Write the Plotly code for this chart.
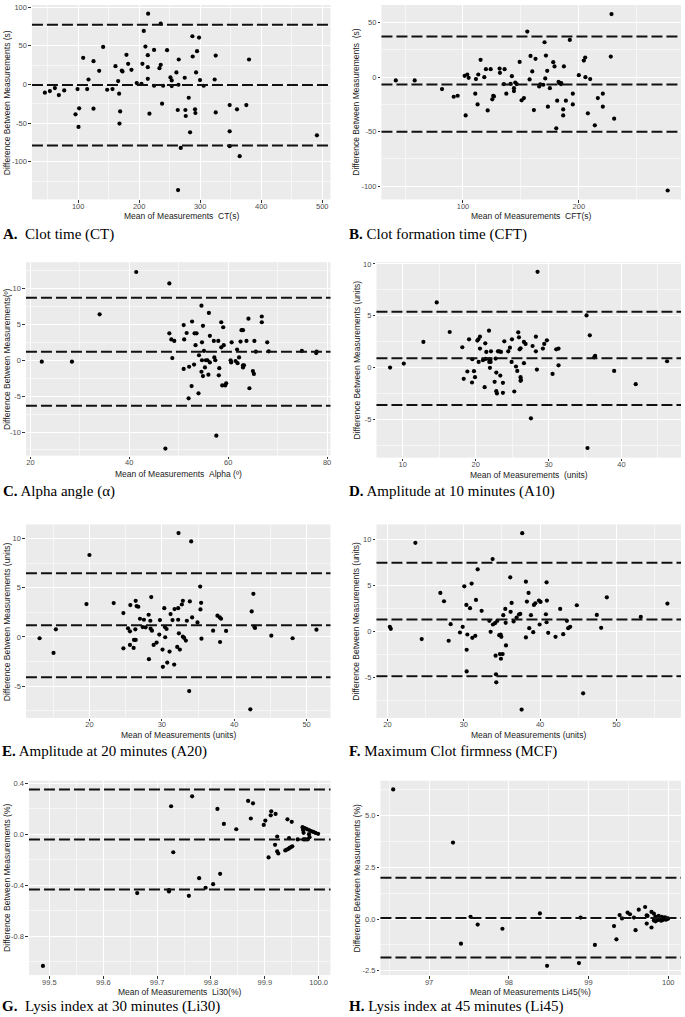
import plotly.graph_objects as go

# ---------------- DATA ----------------
# A. Clot time (CT)
A_mean = [45.4, 53.6, 61.8, 68.3, 77.1, 95.6, 98.9, 100.5, 101.6, 108.2, 114.7, 116.9, 125.1, 125.1,
          140.9, 134.4, 147.5, 156.2, 161.1, 165.5, 167.1, 167.7, 168.8, 171.5, 172.6, 179.1, 181.9,
          187.3, 196.0, 203.7, 205.3, 207.5, 210.2, 214.1, 214.1, 214.6, 214.1, 216.8, 224.4, 224.4,
          233.2, 235.3, 235.3, 237.5, 239.2, 245.7, 251.2, 253.3, 253.3, 261.0, 263.2, 264.3, 264.8,
          263.7, 268.1, 274.6, 275.7, 276.3, 281.2, 283.4, 287.2, 287.7, 291.5, 292.1, 293.2, 294.8,
          298.1, 299.7, 305.7, 323.7, 325.4, 325.4, 348.3, 348.3, 348.3, 360.3, 364.7, 375.6, 380.0, 491.3]
A_diff = [-10.7, -8.6, -4.7, -13.7, -7.7, -38.6, -6.0, -54.9, -30.9, 34.3, -6.0, 6.4, -31.3, 30.0,
          48.5, 17.6, -6.9, -6.0, 23.6, 4.3, -12.0, -50.6, -34.8, 18.0, 16.7, 38.2, 26.6,
          18.9, 1.7, 0.9, 26.6, 69.1, 48.9, 37.8, 22.3, 91.4, 7.3, -37.8, 44.6, -1.7,
          21.0, 25.3, 78.5, -24.9, -1.7, 44.2, 9.0, 5.2, -2.1, 15.5, -33.0, -0.4, 32.2,
          -136.5, -82.0, 8.6, -33.0, -40.8, -17.2, -61.8, 62.2, 36.1, -32.2, -36.9, 15.5, 42.9,
          60.5, 5.6, -1.7, 6.4, 37.3, -36.1, -26.6, -60.5, -79.8, -32.2, -92.7, -26.6, 32.2, -65.7]
A_limits = [77.2, -0.8, -79.0]

# B. Clot formation time (CFT)
B_mean = [42.0, 58.3, 81.9, 92.0, 95.4, 101.4, 103.7, 104.9, 102.3, 111.2, 110.6, 113.2, 112.6, 115.2,
          118.4, 119.8, 121.3, 123.9, 125.3, 126.1, 126.7, 131.6, 131.9, 135.9, 135.3, 137.4, 141.1,
          142.2, 144.0, 144.0, 145.1, 146.3, 148.9, 150.6, 152.6, 155.5, 157.5, 158.3, 159.8, 161.2,
          162.6, 165.8, 166.7, 169.3, 170.4, 171.0, 171.6, 172.7, 173.3, 175.0, 177.9, 179.0, 181.3,
          180.5, 182.5, 183.3, 184.6, 184.8, 186.5, 187.1, 186.5, 188.8, 192.2, 194.8, 194.8, 200.0,
          204.3, 205.5, 205.7, 207.8, 209.8, 213.8, 216.4, 220.7, 220.7, 227.6, 228.2, 230.5, 276.7]
B_diff = [-3.0, -3.0, -11.0, -18.0, -17.1, 1.2, 2.4, -0.6, -35.1, -1.8, -15.2, 2.4, -25.0, 15.9,
          0.0, 7.3, -30.5, 7.3, -20.4, -17.1, -17.7, 7.9, 4.0, 7.3, -6.4, -15.2, -6.1,
          0.9, -10.1, -12.8, -4.9, -6.4, 14.0, -21.3, -19.2, 41.8, -2.1, 19.5, 5.2, -30.2,
          16.8, -8.5, -6.7, -7.0, 32.0, -1.2, 19.8, 5.8, -27.1, -10.1, 13.7, 9.8, -21.6,
          -47.0, -4.3, -5.5, -6.4, -5.5, -29.6, 9.8, -35.1, -21.6, 34.1, -15.2, -25.0, 1.8,
          15.2, 18.0, 0.0, -33.2, -1.8, -44.2, -19.2, -15.2, -27.1, 18.9, 57.9, -38.1, -104.0]
B_limits = [37.2, -6.7, -50.0]

# C. Alpha angle
C_mean = [22.3, 28.4, 34.0, 41.4, 48.1, 48.1, 48.5, 49.1, 48.7, 47.3, 51.0, 51.1, 51.0, 51.6, 52.1,
          52.7, 52.6, 52.0, 53.1, 53.2, 53.4, 53.6, 54.0, 54.1, 54.6, 54.6, 54.7, 54.7, 54.9, 54.9,
          55.1, 55.3, 55.5, 55.8, 56.0, 56.1, 56.3, 56.3, 57.1, 57.2, 57.4, 57.6, 58.0, 58.1, 58.2,
          58.6, 58.6, 58.8, 59.0, 59.1, 59.4, 59.6, 60.5, 60.6, 60.7, 61.5, 61.8, 61.9, 62.2, 62.5,
          62.7, 63.0, 63.0, 63.0, 63.2, 63.7, 64.1, 64.3, 65.0, 65.2, 65.3, 65.6, 66.8, 66.8, 67.9,
          68.2, 74.9, 77.8, 77.9]
C_diff = [-0.2, -0.2, 6.4, 12.3, 10.7, 3.75, 2.9, 2.7, 0.3, -12.3, 4.9, 2.9, -1.2, 3.8, -0.9,
          5.4, -3.6, -5.3, -0.6, 3.75, 2.1, 3.75, -4.6, 0.7, 7.6, -1.6, 2.5, 0.0, 4.8, -2.2,
          1.3, -1.0, 0.0, 0.0, -2.0, 6.6, -0.3, 3.4, 2.7, 0.4, 0.0, -10.5, 2.7, -2.1, -1.1,
          5.3, 1.8, -3.5, 4.6, 2.1, -3.5, -3.2, 0.0, -0.3, 2.5, -0.1, 1.5, -0.4, 0.4, 2.6,
          4.2, 4.2, -0.7, -1.0, -0.7, 2.7, 5.8, -3.9, -1.5, -1.9, 2.7, 1.2, 6.1, 5.3, 2.5,
          1.25, 1.3, 1.0, 1.2]
C_limits = [8.70, 1.20, -6.34]

# D. Amplitude at 10 minutes (A10)
D_mean = [8.26, 10.14, 12.83, 14.66, 16.44, 18.17, 18.36, 18.86, 19.09, 19.50, 19.54, 19.77, 19.91,
          20.23, 20.37, 20.41, 20.59, 20.59, 21.00, 21.23, 21.32, 21.37, 21.46, 21.83, 21.87, 21.87,
          21.96, 22.10, 22.01, 22.05, 22.60, 22.74, 22.83, 22.83, 22.92, 23.06, 23.24, 23.38, 23.47,
          23.74, 23.74, 23.93, 24.47, 24.70, 24.93, 24.98, 25.30, 25.53, 25.71, 25.84, 25.94, 26.03,
          26.16, 26.16, 26.16, 26.21, 26.62, 26.62, 26.85, 27.58, 27.81, 28.26, 28.26, 28.40, 28.49,
          29.22, 29.41, 29.77, 30.55, 31.05, 31.37, 31.37, 35.21, 35.34, 35.66, 36.26, 36.39, 39.0,
          41.96, 46.26]
D_diff = [0.0, 0.38, 2.47, 6.28, 3.43, 1.96, -1.09, -0.38, 2.72, -1.44, 0.80, -0.35, -0.93,
          2.60, 2.72, 0.54, 2.98, 1.83, 0.71, -1.89, 2.34, 0.83, 1.51, 3.56, 0.80, 0.54,
          -0.03, 1.57, 0.77, 0.54, -1.38, 0.87, -0.48, -2.28, -2.50, 1.57, 1.57, -0.77, 1.51,
          -1.47, -2.44, 2.53, 1.57, 1.92, 0.54, 2.72, -2.31, 0.10, -0.32, 3.40, 2.92, 1.76,
          1.86, -0.93, -1.28, -1.19, 2.47, 0.42, 2.28, -4.90, 2.08, 2.98, 1.57, -0.19, 9.23,
          1.83, 2.28, 2.63, -0.61, 1.76, 1.83, 0.22, 5.03, -7.76, 3.11, 0.99, 1.12, -0.32,
          -1.60, 0.61]
D_limits = [5.38, 0.90, -3.62]

# E. Amplitude at 20 minutes (A20)
E_mean = [13.11, 15.04, 15.36, 19.59, 20.0, 23.35, 24.69, 24.69, 25.33, 25.60, 25.60, 25.65, 26.11,
          26.16, 26.34, 26.39, 26.39, 26.52, 26.75, 26.98, 27.35, 27.53, 27.76, 28.18, 28.22, 28.41,
          28.45, 28.54, 28.64, 28.87, 29.28, 29.65, 29.74, 30.10, 30.15, 30.34, 30.43, 30.47, 30.66,
          30.75, 31.07, 31.21, 31.48, 31.71, 31.76, 32.13, 32.26, 32.36, 32.26, 32.31, 32.49, 32.77,
          32.91, 32.91, 33.09, 33.32, 33.46, 33.78, 33.87, 34.06, 34.19, 34.93, 35.30, 35.34, 35.43,
          35.48, 37.09, 37.69, 38.01, 38.05, 38.19, 38.88, 42.23, 42.42, 42.65, 42.78, 42.88, 45.13,
          48.07, 51.37]
E_diff = [-0.13, -1.62, 0.78, 3.34, 8.33, 3.44, 2.43, -1.15, 0.88, 0.57, -0.81, 3.24, -1.11,
          -0.30, 0.78, -0.30, 3.67, 3.14, 3.07, 1.85, 1.01, 1.75, 0.98, 2.26, -2.26, 1.65,
          0.84, 4.05, 0.64, -0.81, -0.57, 0.24, 1.72, -1.28, -3.03, 2.93, 1.01, -0.03, 0.81,
          -2.60, -1.48, 2.33, 1.72, -2.80, 2.83, -1.01, 2.93, 0.37, 1.75, 10.55, -1.28, 3.30,
          3.67, 0.03, -0.10, -0.37, 1.65, -5.50, 3.61, 9.71, 1.99, 1.48, 5.12, 2.80, 3.47,
          -0.17, 0.64, 2.16, 1.99, -0.51, 1.85, 0.61, -7.35, 2.60, 4.38, 1.05, 0.91, 0.13,
          -0.13, 0.74]
E_limits = [6.47, 1.18, -4.08]

# F. Maximum clot firmness (MCF)
F_mean = [20.31, 20.44, 23.66, 24.49, 26.93, 27.41, 28.02, 28.28, 29.50, 29.86, 30.07, 30.34, 30.38,
          30.38, 30.47, 30.82, 31.03, 31.12, 31.51, 31.60, 31.82, 32.34, 33.35, 33.52, 33.78, 33.82,
          34.09, 34.17, 34.22, 34.26, 34.39, 34.65, 34.74, 34.83, 34.87, 34.92, 35.09, 35.18, 35.44,
          35.49, 35.53, 36.09, 36.14, 36.27, 36.53, 36.92, 37.23, 37.40, 37.58, 37.66, 38.14, 38.14,
          38.27, 38.49, 38.58, 38.80, 39.10, 39.19, 39.37, 39.85, 39.94, 40.06, 40.76, 40.85, 40.89,
          40.85, 41.06, 42.02, 42.63, 43.03, 43.51, 43.68, 43.94, 44.81, 45.64, 47.43, 48.00, 48.74,
          53.19, 56.68]
F_diff = [0.51, 0.29, 9.67, -0.83, 4.20, 3.30, -1.01, 0.80, -0.11, 0.51, 4.93, 2.90, -1.99,
          -4.35, -0.33, 2.54, 5.22, -0.69, -0.47, 3.44, 6.78, 2.25, 1.16, -0.04, 7.90, 0.76,
          0.91, -2.64, -4.67, -5.54, 1.16, -0.40, -2.46, -0.33, -2.97, -0.58, -2.46, 1.78, 2.46,
          0.94, -1.52, 5.91, 2.14, 3.12, 1.09, 1.52, 1.85, 1.92, -8.51, 10.72, 5.43, -0.65,
          3.26, 4.20, 0.36, 1.78, -0.07, 2.90, 3.08, 3.37, 0.76, 3.22, 1.88, 5.36, 3.37,
          1.01, -0.14, -0.58, 2.46, -0.29, 1.16, 0.36, 0.51, 2.86, -6.74, 1.81, 0.40, 3.73,
          1.59, 3.04]
F_limits = [7.50, 1.30, -4.89]

# G. Lysis index at 30 minutes (Li30)
G_mean = [99.488, 99.663, 99.722, 99.722, 99.726, 99.730, 99.759, 99.765, 99.778, 99.790, 99.804,
          99.812, 99.817, 99.824, 99.847, 99.869, 99.878, 99.874, 99.912, 99.911, 99.920, 99.901,
          99.898, 99.942, 99.950, 99.923, 99.945, 99.919, 99.923, 99.925, 99.907,
          99.938, 99.941, 99.944, 99.946, 99.949, 99.951, 99.961,
          99.970, 99.974, 99.978, 99.982, 99.986, 99.990, 99.994, 99.999,
          99.972, 99.971, 99.982, 99.983, 99.979, 99.975, 99.972]
G_diff = [-1.031, -0.461, -0.448, -0.438, 0.219, -0.141, -0.482, 0.297, -0.344, -0.419, -0.391,
          0.198, -0.310, 0.081, 0.039, 0.261, 0.242, 0.123, 0.180, 0.148, 0.159, 0.107,
          0.073, 0.117, 0.097, -0.018, -0.031, -0.083, -0.135, -0.151, -0.182,
          -0.127, -0.120, -0.114, -0.107, -0.100, -0.094, -0.041,
          0.055, 0.048, 0.040, 0.033, 0.025, 0.018, 0.010, 0.003,
          0.011, 0.034, 0.000, -0.023, -0.041, -0.041, -0.041]
G_limits = [0.351, -0.041, -0.433]

# H. Lysis index at 45 minutes (Li45)
H_mean = [96.55, 97.30, 97.40, 97.52, 97.61, 97.92, 98.39, 98.48, 98.88, 98.90, 99.08, 99.32, 99.35,
          99.39, 99.42, 99.49, 99.52, 99.57, 99.59, 99.63, 99.71, 99.73, 99.74, 99.73, 99.79, 99.79,
          99.82, 99.82, 99.84, 99.84, 99.86, 99.87, 99.88, 99.90, 99.91, 99.92, 99.94, 99.95, 99.97,
          99.99, 99.96, 99.93, 99.98, 100.0]
H_diff = [6.26, 3.69, -1.19, 0.11, -0.27, -0.47, 0.27, -2.26, -2.13, 0.07, -1.25, -0.34, -0.98,
          0.19, 0.03, 0.31, 0.23, 0.07, -0.54, 0.45, 0.58, 0.18, 0.15, -0.22, -0.41, 0.34,
          0.26, -0.07, 0.12, -0.11, 0.06, -0.05, 0.15, 0.02, -0.08, 0.11, 0.01, 0.06, -0.03,
          0.03, 0.08, -0.05, -0.01, 0.02]
H_limits = [1.99, 0.05, -1.86]

# tick values
A_xticks, A_xminor = [100, 200, 300, 400, 500], [50, 150, 250, 350, 450]
A_yticks, A_yminor = [-100, -50, 0, 50, 100], [-125, -75, -25, 25, 75]
B_xticks, B_xminor = [100, 200], [50, 150, 250]
B_yticks, B_yminor = [-100, -50, 0, 50], [-75, -25, 25]
C_xticks, C_xminor = [20, 40, 60, 80], [30, 50, 70]
C_yticks, C_yminor = [-10, -5, 0, 5, 10], [-12.5, -7.5, -2.5, 2.5, 7.5, 12.5]
D_xticks, D_xminor = [10, 20, 30, 40], [15, 25, 35, 45]
D_yticks, D_yminor = [-5, 0, 5, 10], [-7.5, -2.5, 2.5, 7.5]
E_xticks, E_xminor = [20, 30, 40, 50], [15, 25, 35, 45]
E_yticks, E_yminor = [-5, 0, 5, 10], [-7.5, -2.5, 2.5, 7.5]
F_xticks, F_xminor = [20, 30, 40, 50], [25, 35, 45, 55]
F_yticks, F_yminor = [-5, 0, 5, 10], [-7.5, -2.5, 2.5, 7.5]
G_xticks, G_xminor = [99.5, 99.6, 99.7, 99.8, 99.9, 100.0], [99.55, 99.65, 99.75, 99.85, 99.95]
G_yticks, G_yminor = [-0.8, -0.4, 0.0, 0.4], [-1.0, -0.6, -0.2, 0.2]
H_xticks, H_xminor = [97, 98, 99, 100], [96.5, 97.5, 98.5, 99.5]
H_yticks, H_yminor = [-2.5, 0.0, 2.5, 5.0], [-1.25, 1.25, 3.75, 6.25]

# ---------------- LAYOUT / STYLE ----------------
W, H = 685, 1017
SANS = "Liberation Sans, Arial, sans-serif"
SERIF = "Liberation Serif, Times New Roman, serif"

def fmt(v, dec):
    return f"{v:.{dec}f}"

panels = [
    dict(mean=A_mean, diff=A_diff, lim=A_limits, xt=A_xticks, xm=A_xminor, yt=A_yticks, ym=A_yminor,
         xd=0, yd=0, xr=[24.2, 513.6], yr=[-148.5, 102.6], box=(32, 331, 2, 197),
         xtitle="Mean of Measurements\u00a0\u00a0CT(s)", ytitle="Difference Between Measurements\u00a0(s)",
         letter="A.", cap="\u00a0\u00a0Clot time (CT)", xty=214, capy=232, capx=1),
    dict(mean=B_mean, diff=B_diff, lim=B_limits, xt=B_xticks, xm=B_xminor, yt=B_yticks, ym=B_yminor,
         xd=0, yd=0, xr=[29.6, 288.2], yr=[-112.2, 66.2], box=(382, 682, 2, 197),
         xtitle="Mean of Measurements\u00a0\u00a0CFT(s)", ytitle="Difference Between Measurements\u00a0\u00a0(s)",
         letter="B.", cap=" Clot formation time (CFT)", xty=214, capy=232, capx=348),
    dict(mean=C_mean, diff=C_diff, lim=C_limits, xt=C_xticks, xm=C_xminor, yt=C_yticks, ym=C_yminor,
         xd=0, yd=0, xr=[19.1, 80.7], yr=[-13.29, 13.66], box=(26, 331, 260, 454),
         xtitle="Mean of Measurements\u00a0\u00a0Alpha (º)", ytitle="Difference Between Measurements(º)",
         letter="C.", cap=" Alpha angle (α)", xty=472, capy=490, capx=1),
    dict(mean=D_mean, diff=D_diff, lim=D_limits, xt=D_xticks, xm=D_xminor, yt=D_yticks, ym=D_yminor,
         xd=0, yd=0, xr=[6.39, 48.17], yr=[-8.69, 10.16], box=(377, 682, 260, 456),
         xtitle="Mean of Measurements\u00a0\u00a0(units)", ytitle="Difference Between Measurements\u00a0(units)",
         letter="D.", cap=" Amplitude at 10 minutes (A10)", xty=473, capy=490, capx=348),
    dict(mean=E_mean, diff=E_diff, lim=E_limits, xt=E_xticks, xm=E_xminor, yt=E_yticks, ym=E_yminor,
         xd=0, yd=0, xr=[11.23, 53.31], yr=[-8.22, 11.43], box=(26, 331, 523, 717),
         xtitle="Mean of Measurements (units)", ytitle="Difference Between Measurements (units)",
         letter="E.", cap=" Amplitude at 20 minutes (A20)", xty=734, capy=751, capx=0),
    dict(mean=F_mean, diff=F_diff, lim=F_limits, xt=F_xticks, xm=F_xminor, yt=F_yticks, ym=F_yminor,
         xd=0, yd=0, xr=[18.56, 58.46], yr=[-9.42, 11.67], box=(377, 682, 523, 717),
         xtitle="Mean of Measurements (units)", ytitle="Difference Between Measurements (units)",
         letter="F.", cap=" Maximum Clot firmness (MCF)", xty=734, capy=751, capx=348),
    dict(mean=G_mean, diff=G_diff, lim=G_limits, xt=G_xticks, xm=G_xminor, yt=G_yticks, ym=G_yminor,
         xd=1, yd=1, xr=[99.462, 100.022], yr=[-1.103, 0.419], box=(29, 331, 780, 975),
         xtitle="Mean of Measurements\u00a0\u00a0Li30(%)", ytitle="Difference Between Measurements (%)",
         letter="G.", cap="\u00a0\u00a0Lysis index at 30 minutes (Li30)", xty=992, capy=1006, capx=0),
    dict(mean=H_mean, diff=H_diff, lim=H_limits, xt=H_xticks, xm=H_xminor, yt=H_yticks, ym=H_yminor,
         xd=0, yd=1, xr=[96.39, 100.16], yr=[-2.71, 6.68], box=(381, 682, 780, 975),
         xtitle="Mean of Measurements Li45(%)", ytitle="Difference Between Measurements (%)",
         letter="H.", cap=" Lysis index at 45 minutes (Li45)", xty=992, capy=1006, capx=348),
]

fig = go.Figure()
layout = dict(width=W, height=H, margin=dict(l=0, r=0, t=0, b=0),
              paper_bgcolor="white", plot_bgcolor="#EBEBEB", showlegend=False,
              font=dict(family=SANS), shapes=[], annotations=[])

GRID = "#FFFFFF"
TICKFONT = dict(family=SANS, size=7.5, color="#4D4D4D")

for i, p in enumerate(panels, start=1):
    sx = "" if i == 1 else str(i)
    xa, ya = "x" + sx, "y" + sx
    x0, x1, y0, y1 = p["box"]
    fig.add_trace(go.Scatter(x=p["mean"], y=p["diff"], mode="markers", xaxis=xa, yaxis=ya,
                             marker=dict(size=4.2, color="black", line=dict(width=0)),
                             hoverinfo="skip"))
    common = dict(showgrid=True, gridcolor=GRID, gridwidth=1.1, zeroline=False, showline=False,
                  ticks="outside", ticklen=2.5, tickwidth=0.8, tickcolor="#333333",
                  tickfont=TICKFONT, tickmode="array", fixedrange=True)
    layout["xaxis" + sx] = dict(common, domain=[x0 / W, x1 / W], range=p["xr"], anchor=ya,
                                ticklabelstandoff=-3,
                                tickvals=p["xt"], ticktext=[fmt(v, p["xd"]) for v in p["xt"]],
                                minor=dict(tickmode="array", tickvals=p["xm"], showgrid=True,
                                           gridcolor="rgba(255,255,255,0.55)", gridwidth=0.6, ticks=""))
    layout["yaxis" + sx] = dict(common, domain=[1 - y1 / H, 1 - y0 / H], range=p["yr"], anchor=xa,
                                tickvals=p["yt"], ticktext=[fmt(v, p["yd"]) for v in p["yt"]],
                                minor=dict(tickmode="array", tickvals=p["ym"], showgrid=True,
                                           gridcolor="rgba(255,255,255,0.55)", gridwidth=0.6, ticks=""))
    for v in p["lim"]:
        layout["shapes"].append(dict(type="line", xref=xa + " domain", x0=0, x1=1, yref=ya, y0=v, y1=v,
                                     line=dict(color="#111111", width=2, dash="11px,4px"), layer="above"))
    layout["annotations"].append(dict(text=p["xtitle"], xref="paper", yref="paper",
                                      x=(x0 + x1) / 2 / W, y=1 - p["xty"] / H, xanchor="center", yanchor="middle",
                                      showarrow=False, font=dict(family=SANS, size=8.5, color="#222222")))
    ytx = 7 if x0 < 200 else 357
    layout["annotations"].append(dict(text=p["ytitle"], xref="paper", yref="paper", textangle=-90,
                                      x=ytx / W, y=1 - (y0 + y1) / 2 / H, xanchor="center", yanchor="middle",
                                      showarrow=False, font=dict(family=SANS, size=8.5, color="#222222")))
    layout["annotations"].append(dict(text="<b>" + p["letter"] + "</b>" + p["cap"], xref="paper", yref="paper",
                                      x=p["capx"] / W, y=1 - p["capy"] / H, xanchor="left", yanchor="middle",
                                      showarrow=False, font=dict(family=SERIF, size=15, color="black")))

fig.update_layout(**layout)
fig.write_html("out.html", config={"displayModeBar": False},
               post_script="document.body.style.margin='0px';document.body.style.overflow='hidden';")
